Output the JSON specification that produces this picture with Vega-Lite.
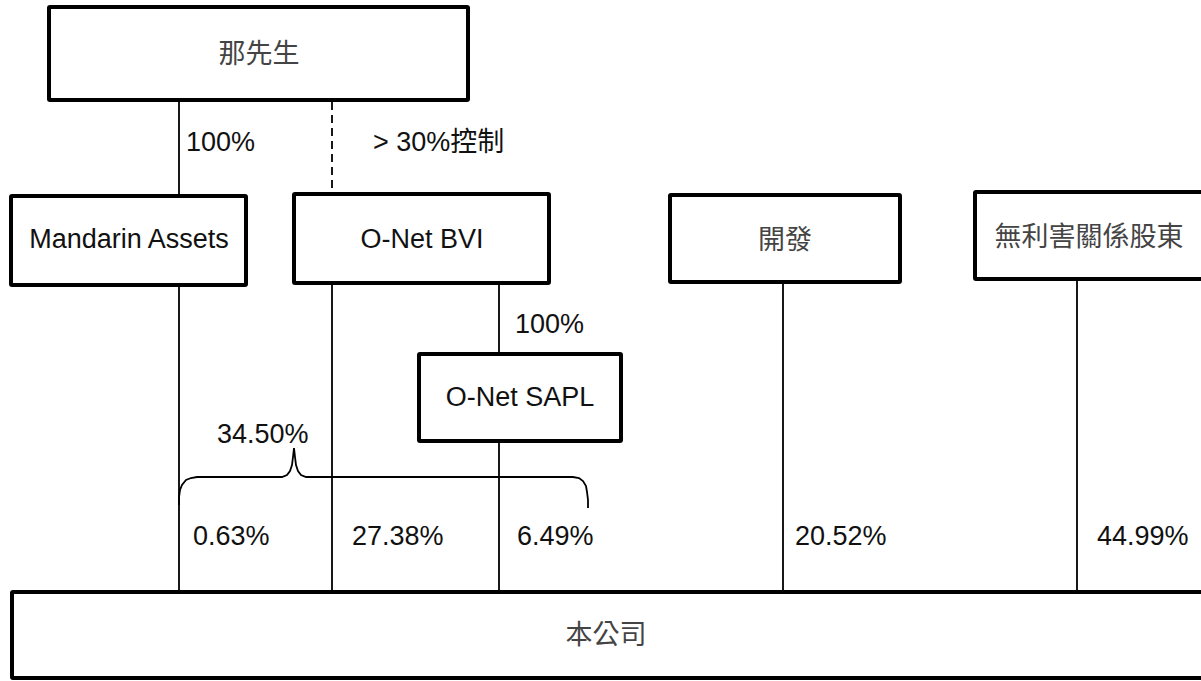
{
  "$schema": "https://vega.github.io/schema/vega-lite/v6.json",
  "width": 1201,
  "height": 681,
  "autosize": {"type": "fit", "contains": "padding"},
  "padding": 0,
  "background": "white",
  "config": {"view": {"stroke": null}},
  "datasets": {
    "boxes": [
      {"name": "那先生", "x1": 49, "x2": 468, "y1": 7, "y2": 100, "cx": 259, "cy": 55, "lang": "zh"},
      {"name": "Mandarin Assets", "x1": 11, "x2": 246, "y1": 196, "y2": 285, "cx": 129, "cy": 240, "lang": "en"},
      {"name": "O-Net BVI", "x1": 294, "x2": 549, "y1": 194, "y2": 283, "cx": 422, "cy": 240, "lang": "en"},
      {"name": "開發", "x1": 670, "x2": 900, "y1": 195, "y2": 282, "cx": 785, "cy": 241, "lang": "zh"},
      {"name": "無利害關係股東", "x1": 975, "x2": 1220, "y1": 192, "y2": 279, "cx": 1089, "cy": 238, "lang": "zh"},
      {"name": "O-Net SAPL", "x1": 419, "x2": 621, "y1": 354, "y2": 441, "cx": 520, "cy": 398, "lang": "en"},
      {"name": "本公司", "x1": 12, "x2": 1220, "y1": 592, "y2": 678, "cx": 606, "cy": 636, "lang": "zh"}
    ],
    "links": [
      {"from": "那先生", "to": "Mandarin Assets", "x": 179, "y1": 100, "y2": 196, "kind": "ownership"},
      {"from": "那先生", "to": "O-Net BVI", "x": 332, "y1": 102, "y2": 194, "kind": "control"},
      {"from": "Mandarin Assets", "to": "本公司", "x": 179, "y1": 285, "y2": 592, "kind": "ownership"},
      {"from": "O-Net BVI", "to": "本公司", "x": 332, "y1": 283, "y2": 592, "kind": "ownership"},
      {"from": "O-Net BVI", "to": "O-Net SAPL", "x": 499, "y1": 283, "y2": 354, "kind": "ownership"},
      {"from": "O-Net SAPL", "to": "本公司", "x": 499, "y1": 441, "y2": 592, "kind": "ownership"},
      {"from": "開發", "to": "本公司", "x": 783, "y1": 282, "y2": 592, "kind": "ownership"},
      {"from": "無利害關係股東", "to": "本公司", "x": 1077, "y1": 279, "y2": 592, "kind": "ownership"}
    ],
    "labels": [
      {"text": "100%", "x": 186, "y": 143},
      {"text": "> 30%控制", "x": 373, "y": 143},
      {"text": "100%", "x": 515, "y": 325},
      {"text": "34.50%", "x": 217, "y": 435},
      {"text": "0.63%", "x": 193, "y": 537},
      {"text": "27.38%", "x": 352, "y": 537},
      {"text": "6.49%", "x": 517, "y": 537},
      {"text": "20.52%", "x": 795, "y": 537},
      {"text": "44.99%", "x": 1097, "y": 537}
    ],
    "brace": [
      {"i": 1, "x": 179, "y": 505}, {"i": 2, "x": 179, "y": 497}, {"i": 3, "x": 180, "y": 490},
      {"i": 4, "x": 182, "y": 485}, {"i": 5, "x": 186, "y": 480}, {"i": 6, "x": 191, "y": 478},
      {"i": 7, "x": 197, "y": 477}, {"i": 8, "x": 282, "y": 477}, {"i": 9, "x": 287, "y": 475},
      {"i": 10, "x": 290, "y": 471}, {"i": 11, "x": 292, "y": 465}, {"i": 12, "x": 293, "y": 457},
      {"i": 13, "x": 294, "y": 448}, {"i": 14, "x": 295, "y": 457}, {"i": 15, "x": 296, "y": 465},
      {"i": 16, "x": 298, "y": 471}, {"i": 17, "x": 301, "y": 475}, {"i": 18, "x": 306, "y": 477},
      {"i": 19, "x": 573, "y": 477}, {"i": 20, "x": 579, "y": 478}, {"i": 21, "x": 583, "y": 481},
      {"i": 22, "x": 586, "y": 486}, {"i": 23, "x": 587, "y": 492}, {"i": 24, "x": 588, "y": 500},
      {"i": 25, "x": 588, "y": 508}
    ]
  },
  "layer": [
    {
      "data": {"name": "links"},
      "mark": {"type": "rule", "color": "black", "strokeWidth": 1.8},
      "encoding": {
        "x": {"field": "x", "type": "quantitative", "scale": {"domain": [0, 1201], "nice": false, "zero": false}, "axis": null},
        "y": {"field": "y1", "type": "quantitative", "scale": {"domain": [0, 681], "nice": false, "zero": false, "reverse": true}, "axis": null},
        "y2": {"field": "y2"},
        "strokeDash": {"field": "kind", "type": "nominal", "scale": {"domain": ["ownership", "control"], "range": [[1, 0], [8, 5]]}, "legend": null}
      }
    },
    {
      "data": {"name": "brace"},
      "mark": {"type": "line", "color": "black", "strokeWidth": 1.8, "interpolate": "linear"},
      "encoding": {
        "x": {"field": "x", "type": "quantitative"},
        "y": {"field": "y", "type": "quantitative"},
        "order": {"field": "i", "type": "quantitative"}
      }
    },
    {
      "data": {"name": "boxes"},
      "mark": {"type": "rect", "fill": "white", "stroke": "black", "strokeWidth": 4, "clip": true, "cornerRadius": 1},
      "encoding": {
        "x": {"field": "x1", "type": "quantitative"},
        "x2": {"field": "x2"},
        "y": {"field": "y1", "type": "quantitative"},
        "y2": {"field": "y2"}
      }
    },
    {
      "data": {"name": "boxes"},
      "transform": [{"filter": "datum.lang === 'en'"}],
      "mark": {"type": "text", "font": "Liberation Sans", "fontSize": 27, "color": "#111", "align": "center", "baseline": "middle"},
      "encoding": {
        "x": {"field": "cx", "type": "quantitative"},
        "y": {"field": "cy", "type": "quantitative"},
        "text": {"field": "name"}
      }
    },
    {
      "data": {"name": "boxes"},
      "transform": [{"filter": "datum.lang === 'zh'"}],
      "mark": {"type": "text", "font": "Noto Sans CJK TC", "fontSize": 27, "color": "#444", "align": "center", "baseline": "middle"},
      "encoding": {
        "x": {"field": "cx", "type": "quantitative"},
        "y": {"field": "cy", "type": "quantitative"},
        "text": {"field": "name"}
      }
    },
    {
      "data": {"name": "labels"},
      "mark": {"type": "text", "font": "Liberation Sans, Noto Sans CJK TC", "fontSize": 27, "color": "#111", "align": "left", "baseline": "middle"},
      "encoding": {
        "x": {"field": "x", "type": "quantitative"},
        "y": {"field": "y", "type": "quantitative"},
        "text": {"field": "text"}
      }
    }
  ]
}
